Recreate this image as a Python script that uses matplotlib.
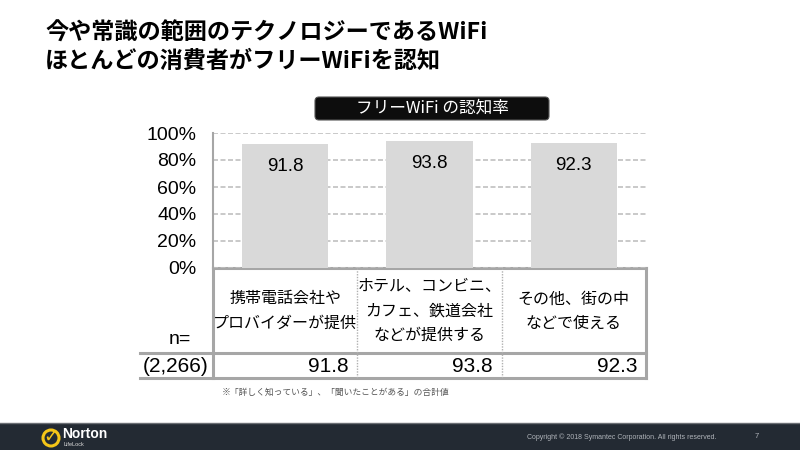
import numpy as np
import matplotlib
matplotlib.use('Agg')
import matplotlib.pyplot as plt
from matplotlib.patches import FancyBboxPatch, Rectangle, Circle

plt.rcParams['font.family'] = ['Noto Sans CJK JP', 'DejaVu Sans']
num_font = ['Liberation Sans', 'Noto Sans CJK JP']

# data
title_lines = ['今や常識の範囲のテクノロジーであるWiFi', 'ほとんどの消費者がフリーWiFiを認知']
chart_title = 'フリーWiFi の認知率'
categories = ['携帯電話会社や\nプロバイダーが提供',
              'ホテル、コンビニ、\nカフェ、鉄道会社\nなどが提供する',
              'その他、街の中\nなどで使える']
values = [91.8, 93.8, 92.3]
n_label = '(2,266)'
y_ticks = [0, 20, 40, 60, 80, 100]
footnote = '※「詳しく知っている」、「聞いたことがある」の合計値'
copyright_text = 'Copyright © 2018 Symantec Corporation. All rights reserved.'
page_no = '7'

W, H = 800, 450
fig = plt.figure(figsize=(8, 4.5), dpi=100)
fig.patch.set_facecolor('white')

# overlay in pixel coords for table, titles, footer
ov = fig.add_axes([0, 0, 1, 1])
ov.set_xlim(0, W)
ov.set_ylim(H, 0)
ov.axis('off')

# main bar axes
ax_l, ax_r, ax_t, ax_b = 213, 646, 133, 268
ax = fig.add_axes([ax_l / W, 1 - ax_b / H, (ax_r - ax_l) / W, (ax_b - ax_t) / H])
ax.patch.set_alpha(0)
x = np.arange(len(values))
ax.bar(x, values, width=0.6, color='#d9d9d9', zorder=3)
ax.set_xlim(-0.5, len(values) - 0.5)
ax.set_ylim(0, 100)
ax.set_yticks(y_ticks)
ax.set_yticklabels([f'{t}%' for t in y_ticks], fontsize=14, family=num_font)
ax.tick_params(axis='y', length=0, pad=12, colors='#000000')
ax.set_xticks([])
ax.yaxis.grid(True, color='#c0c0c0', linestyle=(0, (3, 1.5)), linewidth=1.2, zorder=0)
ax.set_axisbelow(True)
for s in ['top', 'right', 'bottom']:
    ax.spines[s].set_visible(False)
ax.spines['left'].set_color('#a6a6a6')
ax.spines['left'].set_linewidth(1.5)
for xi, v in zip(x, values):
    ax.annotate(f'{v:.1f}', (xi, v), xytext=(0, -16), textcoords='offset points',
                ha='center', va='center', fontsize=13.5, family=num_font, zorder=4)

# titles
ov.text(45, 33, title_lines[0], fontsize=16.7, fontweight='bold', va='center', ha='left')
ov.text(45, 61, title_lines[1], fontsize=16.7, fontweight='bold', va='center', ha='left')

box = FancyBboxPatch((315, 97), 234, 23, boxstyle='round,pad=0,rounding_size=4',
                     facecolor='#0d0d0d', edgecolor='#555555', linewidth=0.8)
ov.add_patch(box)
ov.text(432, 108.5, chart_title, color='white', fontsize=12, ha='center', va='center')

# table
col_edges = np.linspace(ax_l, ax_r, len(values) + 1)
head_top, head_bot, row_bot = 268, 353, 378
grey = '#a6a6a6'
ov.plot([ax_l, ax_r], [head_top, head_top], color=grey, lw=2.2)
ov.plot([140, ax_r], [head_bot, head_bot], color=grey, lw=2.2)
ov.plot([140, ax_r], [row_bot, row_bot], color=grey, lw=2.2)
ov.plot([ax_l, ax_l], [head_top, row_bot], color=grey, lw=2.2)
ov.plot([ax_r, ax_r], [head_top, row_bot], color=grey, lw=2.2)
for ce in col_edges[1:-1]:
    ov.plot([ce, ce], [head_top, row_bot], color='#b0b0b0', lw=1, linestyle=(0, (1, 1)))

for i, (cat, v) in enumerate(zip(categories, values)):
    cx = (col_edges[i] + col_edges[i + 1]) / 2
    ov.text(cx, 311, cat, ha='center', va='center', fontsize=11.5, linespacing=1.55)
    ov.text(col_edges[i + 1] - 9, 366, f'{v:.1f}', ha='right', va='center',
            fontsize=15, family=num_font)

ov.text(180, 340, 'n=', ha='center', va='center', fontsize=14, family=num_font)
ov.text(176, 366, n_label, ha='center', va='center', fontsize=15, family=num_font)

ov.text(222, 392, footnote, ha='left', va='center', fontsize=6.3, color='#555555')

# footer
ov.add_patch(Rectangle((0, 423), W, 27, facecolor='#232a33', edgecolor='none'))
ov.plot([0, W], [422.5, 422.5], color='#6b6f75', lw=1)
ov.add_patch(Circle((51, 438), 8, facecolor='none', edgecolor='#f5c518', lw=2.2))
ov.text(51, 437, '✓', color='#f5c518', fontsize=13, fontweight='bold',
        ha='center', va='center', family=['DejaVu Sans'])
ov.text(62, 434, 'Norton', color='white', fontsize=10, fontweight='bold',
        ha='left', va='center', family=num_font)
ov.text(64, 444, 'LifeLock', color='#dddddd', fontsize=4, ha='left', va='center', family=num_font)
ov.text(527, 437, copyright_text, color='#b0b4ba', fontsize=5, ha='left', va='center',
        family=num_font)
ov.text(757, 437, page_no, color='#b0b4ba', fontsize=5.5, ha='center', va='center',
        family=num_font)

fig.savefig('out.png', dpi=100)
